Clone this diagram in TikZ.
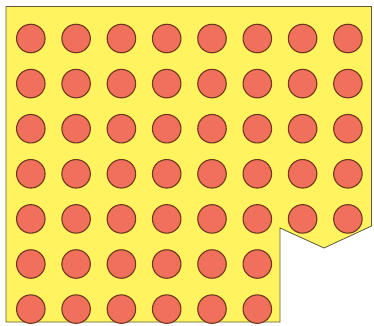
\documentclass[tikz,border=0pt]{standalone}
\begin{document}
\begin{tikzpicture}[x=1pt,y=-1pt,
  dot/.style={circle,draw=dotline,fill=dotfill,line width=1.1pt,minimum size=28.5pt,inner sep=0pt}]
\definecolor{plate}{RGB}{255,243,95}
\definecolor{dotfill}{RGB}{240,112,92}
\definecolor{dotline}{RGB}{110,55,30}
\definecolor{edge}{RGB}{95,90,60}
\useasboundingbox (0,0) rectangle (374,325);
\draw[edge,fill=plate,line width=0.8pt] (6,6.5) -- (371.5,6.5) -- (371.5,226) -- (324,248) -- (280,228) -- (280,322) -- (6,322) -- cycle;
\foreach \r in {1,...,7}{
  \foreach \c in {1,...,8}{
    \pgfmathtruncatemacro{\skip}{(\r>5)&&(\c>6)}
    \ifnum\skip=0
      \node[dot] (c-\r-\c) at ({30.8+45.3*(\c-1)},{38.5+45.1*(\r-1)}) {};
    \fi
  }
}
\end{tikzpicture}
\end{document}
